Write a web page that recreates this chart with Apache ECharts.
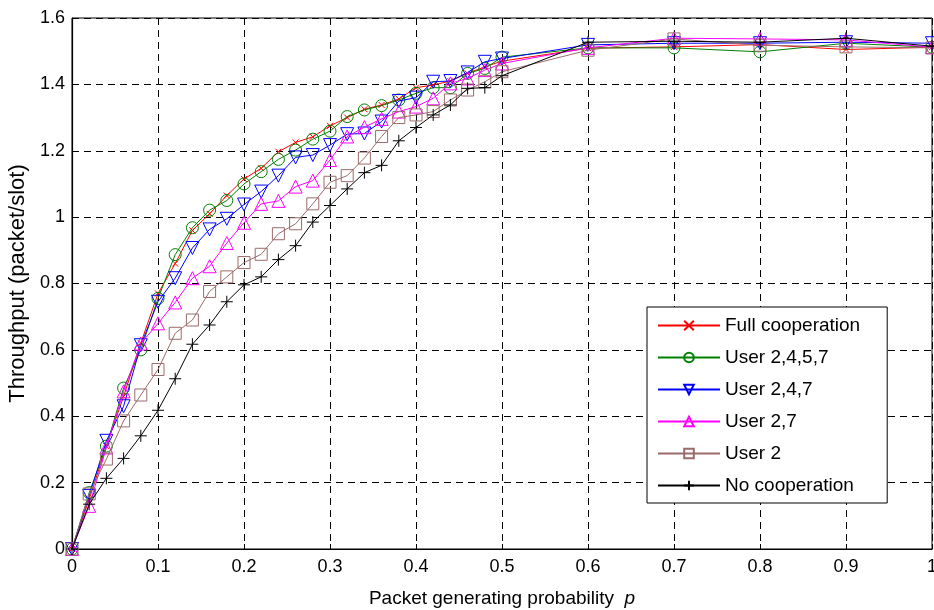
<!DOCTYPE html>
<html><head><meta charset="utf-8">
<script src="https://cdn.jsdelivr.net/npm/echarts@6/dist/echarts.min.js"></script>
<style>html,body{margin:0;padding:0;background:#fff}#c{width:934px;height:610px}</style>
</head><body><div id="c"></div>
<script>
// Packet generating probability p
const pValues = [0,0.02,0.04,0.06,0.08,0.10,0.12,0.14,0.16,0.18,0.20,0.22,0.24,0.26,0.28,0.30,0.32,0.34,0.36,0.38,0.40,0.42,0.44,0.46,0.48,0.50,0.6,0.7,0.8,0.9,1.0];
const seriesNames = ['Full cooperation','User 2,4,5,7','User 2,4,7','User 2,7','User 2','No cooperation'];
const fullCoop   = [0,0.15,0.31,0.46,0.62,0.77,0.86,0.96,1.01,1.065,1.115,1.147,1.197,1.225,1.242,1.275,1.30,1.325,1.338,1.356,1.39,1.398,1.41,1.433,1.453,1.47,1.509,1.513,1.52,1.505,1.512];
const user2457   = [0,0.17,0.31,0.485,0.60,0.755,0.887,0.968,1.021,1.05,1.10,1.137,1.174,1.202,1.235,1.259,1.303,1.323,1.336,1.353,1.373,1.39,1.39,1.433,1.448,1.482,1.51,1.51,1.498,1.524,1.512];
const user247    = [0,0.16,0.326,0.43,0.614,0.745,0.816,0.907,0.963,0.995,1.038,1.077,1.125,1.18,1.187,1.217,1.25,1.252,1.288,1.35,1.36,1.408,1.41,1.436,1.468,1.478,1.519,1.524,1.524,1.527,1.524];
const user27     = [0,0.13,0.306,0.475,0.619,0.68,0.743,0.816,0.852,0.922,0.983,1.04,1.049,1.092,1.11,1.172,1.243,1.271,1.296,1.318,1.333,1.358,1.403,1.418,1.443,1.463,1.51,1.539,1.537,1.534,1.512];
const user2      = [0,0.166,0.271,0.386,0.464,0.541,0.65,0.69,0.776,0.82,0.863,0.888,0.95,0.98,1.04,1.105,1.125,1.178,1.243,1.30,1.308,1.318,1.353,1.383,1.408,1.438,1.503,1.537,1.518,1.513,1.51];
const noCoop     = [0,0.135,0.213,0.273,0.341,0.418,0.513,0.617,0.675,0.745,0.796,0.82,0.872,0.914,0.985,1.035,1.085,1.134,1.156,1.23,1.27,1.308,1.338,1.388,1.39,1.426,1.527,1.53,1.527,1.539,1.515];
const xTicks = [0,0.1,0.2,0.3,0.4,0.5,0.6,0.7,0.8,0.9,1];
const yTicks = [0,0.2,0.4,0.6,0.8,1,1.2,1.4,1.6];

const allValues = [fullCoop,user2457,user247,user27,user2,noCoop];
const colors = ['#ff0000','#008000','#0000ff','#ff00ff','#9b6b6b','#000000'];
const symbols = ['path://M0,0L10,10M10,0L0,10','circle','triangle','triangle','rect','path://M5,0L5,10M0,5L10,5'];
const symbolSizes = [6,12,13,13,12,12];
const rotations = [0,0,180,0,0,0];
const FONT = 'Liberation Sans, Arial, Helvetica, sans-serif';

const chart = echarts.init(document.getElementById('c'), null, {renderer:'canvas'});
const series = seriesNames.map((name,i)=>({
  name: name,
  type: 'line',
  data: pValues.map((p,k)=>[p, allValues[i][k]]),
  symbol: symbols[i],
  symbolSize: symbolSizes[i],
  symbolRotate: rotations[i],
  showSymbol: true,
  lineStyle: {color: colors[i], width: 1},
  itemStyle: {color: 'rgba(0,0,0,0)', borderColor: colors[i], borderWidth: 1},
  emphasis: {disabled: true},
  z: 2 + i
}));

chart.setOption({
  animation: false,
  backgroundColor: '#fff',
  grid: {left: 72, right: 2, top: 18, bottom: 61, outerBoundsMode: 'none', containLabel: false, show: true, borderColor: '#000', borderWidth: 1, backgroundColor: 'rgba(0,0,0,0)'},
  xAxis: {
    type: 'value', min: xTicks[0], max: xTicks[xTicks.length-1], interval: 0.1,
    axisLine: {lineStyle: {color: '#000', width: 1.2}},
    axisTick: {inside: true, length: 5, lineStyle: {color: '#000'}},
    axisLabel: {color: '#000', fontSize: 18, fontFamily: FONT, margin: 9},
    splitLine: {show: true, lineStyle: {color: '#000', type: [7,5], width: 1}},
    name: '{a|Packet generating probability  }{b|p}',
    nameLocation: 'middle', nameGap: 40,
    nameTextStyle: {rich: {a: {fontSize: 19, fontFamily: FONT, color: '#000'}, b: {fontSize: 19, fontFamily: FONT, fontStyle: 'italic', color: '#000'}}}
  },
  yAxis: {
    type: 'value', min: yTicks[0], max: yTicks[yTicks.length-1], interval: 0.2,
    axisLine: {show: true, lineStyle: {color: '#000', width: 1.2}},
    axisTick: {show: true, inside: true, length: 5, lineStyle: {color: '#000'}},
    axisLabel: {color: '#000', fontSize: 18, fontFamily: FONT, margin: 7},
    splitLine: {show: true, lineStyle: {color: '#000', type: [7,5], width: 1}},
    name: 'Throughput (packet/slot)',
    nameLocation: 'middle', nameGap: 37,
    nameTextStyle: {fontSize: 22, fontFamily: FONT, color: '#000'}
  },
  legend: {
    data: seriesNames,
    orient: 'vertical', left: 647, top: 307,
    backgroundColor: '#fff', borderColor: '#000', borderWidth: 1,
    padding: [9, 27, 8, 10], itemGap: 13, itemWidth: 62, itemHeight: 12,
    textStyle: {fontSize: 19, fontFamily: FONT, color: '#000'},
    selectedMode: false
  },
  series: series
});
</script></body></html>
